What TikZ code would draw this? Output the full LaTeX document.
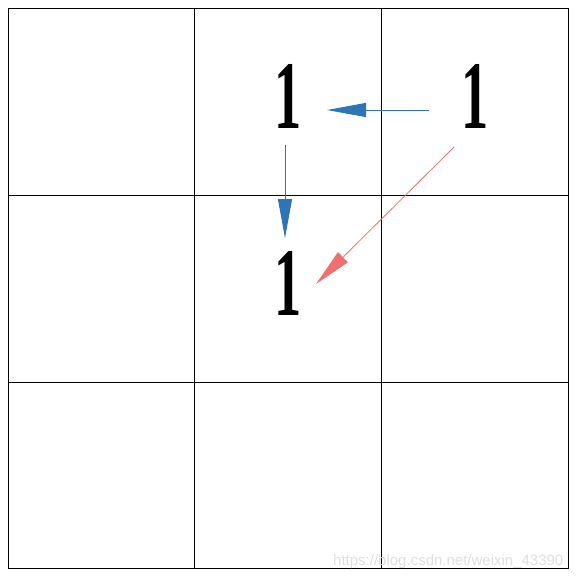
\documentclass[tikz,border=0pt]{standalone}
\usepackage{fontspec}
\newfontfamily\wmfont{Liberation Sans}
\newfontfamily\onefont{Liberation Serif}
\usetikzlibrary{arrows.meta}
\definecolor{arrblue}{HTML}{2E75B6}
\definecolor{arrred}{HTML}{F07070}
\newcommand{\narrowone}{\scalebox{0.56}[1]{\bfseries 1}}
\begin{document}
\begin{tikzpicture}[x=1pt,y=-1pt,
  gridline/.style={draw=black,line width=0.9pt},
  one/.style={inner sep=0pt,font=\onefont\fontsize{97}{97}\selectfont},
  bluearrow/.style={draw=arrblue,line width=1pt,-{Triangle[length=39pt,width=14pt]}},
  redarrow/.style={draw=arrred,line width=0.8pt,-{Triangle[length=38pt,width=14pt]}}]
\useasboundingbox (0,0) rectangle (577,576);
\fill[white] (0,0) rectangle (577,576);
% grid
\draw[gridline] (8,8) rectangle (568,568);
\draw[gridline] (194,8) -- (194,568);
\draw[gridline] (381,8) -- (381,568);
\draw[gridline] (8,195) -- (568,195);
\draw[gridline] (8,382) -- (568,382);
% ones
\node[one] (a) at (288,96) {\narrowone};
\node[one] (b) at (475,96) {\narrowone};
\node[one] (c) at (288,283) {\narrowone};
% arrow endpoints
\coordinate (b1) at (429,110);
\coordinate (a1) at (327,110);
\coordinate (a2) at (285,145);
\coordinate (c1) at (285,238);
\coordinate (b2) at (454,147);
\coordinate (c2) at (316,284);
\draw[bluearrow] (b1) -- (a1);
\draw[bluearrow] (a2) -- (c1);
\draw[redarrow] (b2) -- (c2);
% watermark
\node[anchor=base west,inner sep=0pt,text=black!12,font=\wmfont\fontsize{15}{15}\selectfont] (wm) at (333,565) {https://blog.csdn.net/weixin\_43390};
\end{tikzpicture}
\end{document}
